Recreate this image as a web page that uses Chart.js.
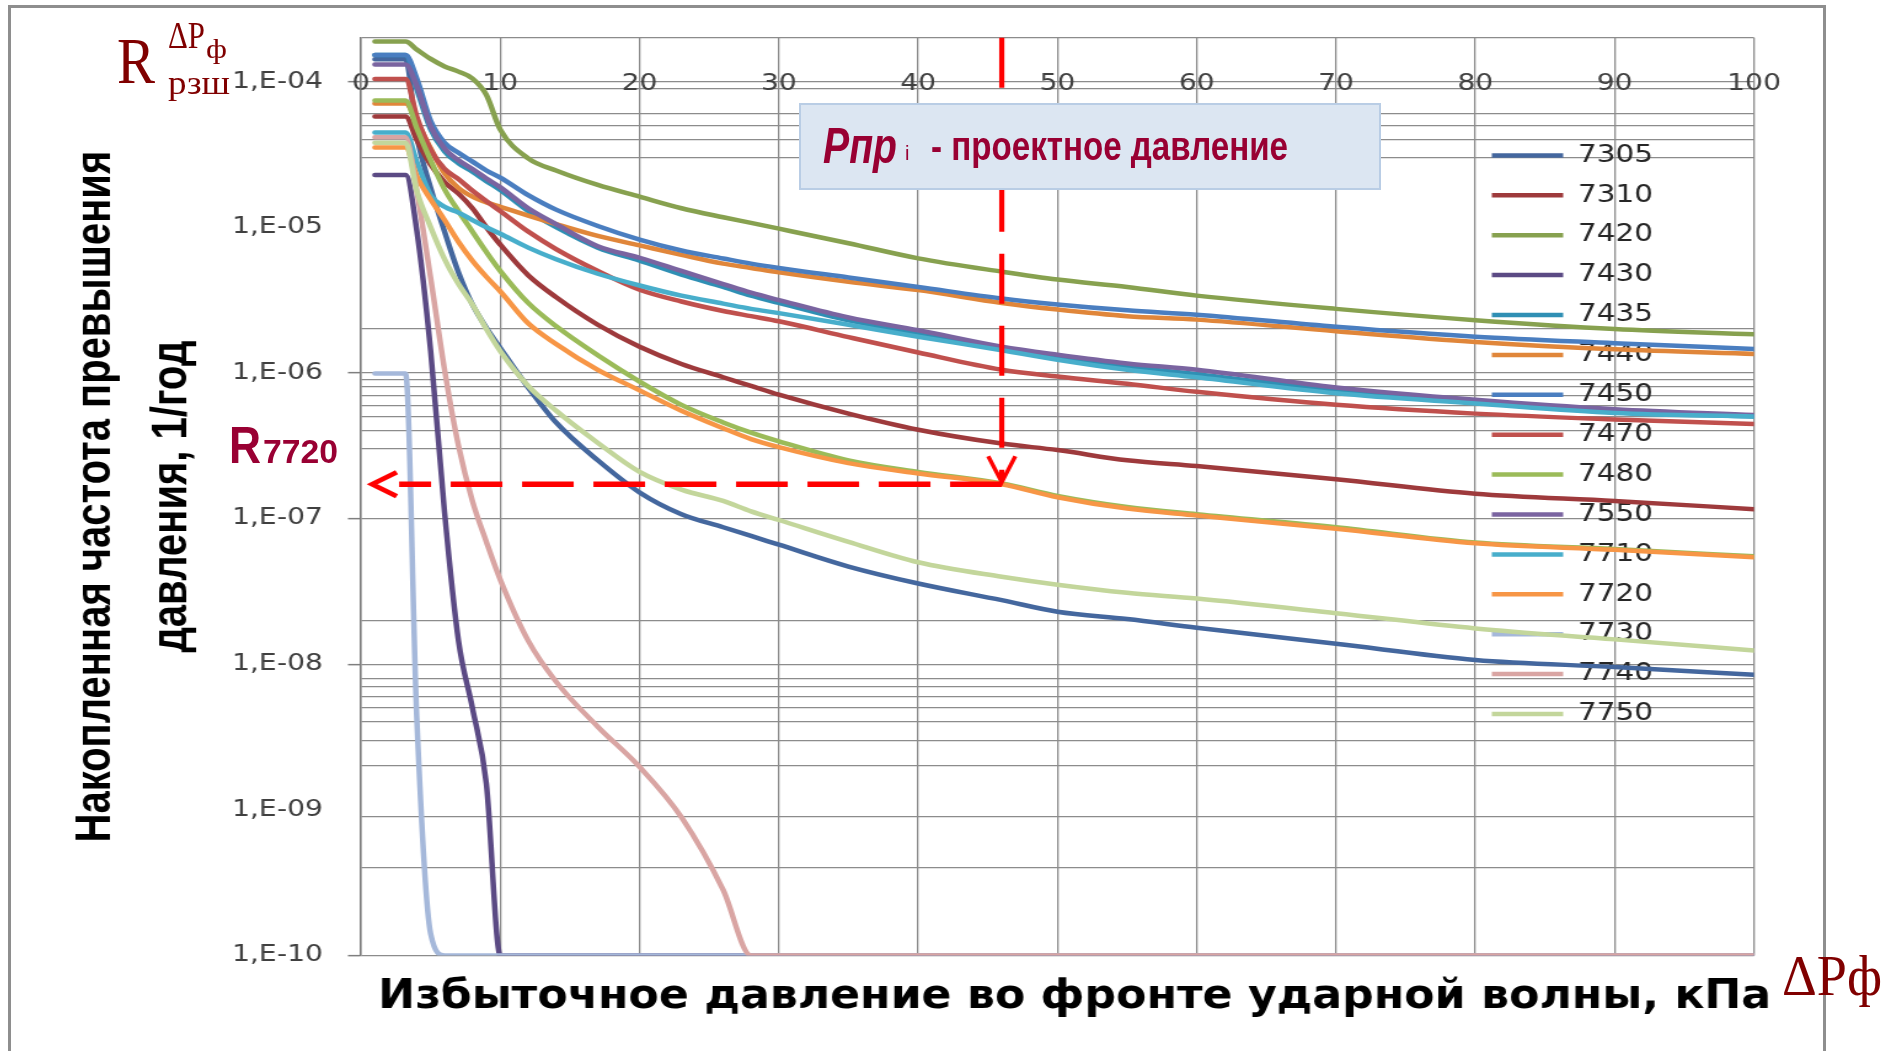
<!DOCTYPE html>
<html lang="ru">
<head>
<meta charset="utf-8">
<title>Накопленная частота превышения давления</title>
<script src="https://cdn.jsdelivr.net/npm/chart.js@4.4.1/dist/chart.umd.min.js"></script>
<style>
  html, body { margin: 0; padding: 0; background: #ffffff; }
  body { position: relative; width: 1899px; height: 1051px; overflow: hidden; }
  #frame { position: absolute; left: 8px; top: 5px; width: 1812px; height: 1100px; border: 3px solid #8e8e8e; }
  #plotWrap { position: absolute; left: 14px; top: 0; width: 1472px; height: 1051px; transform: scaleX(1.23); transform-origin: 0 0; }
  #notes { position: absolute; left: 0; top: 0; pointer-events: none; }
</style>
</head>
<body>
<div id="frame"></div>
<div id="plotWrap"><canvas id="plot" width="1472" height="1051"></canvas></div>
<canvas id="notes" width="1899" height="1051"></canvas>
<script>
// Excess pressure at the shock front, kPa (x values shared by all curves)
const pressure = [1, 3.2, 4, 5, 6, 7, 8, 9, 10, 12, 14, 17, 20, 23, 26, 28, 30, 35, 40, 46, 50, 55, 60, 70, 80, 90, 100];

const stationNames = ['7305', '7310', '7420', '7430', '7435', '7440', '7450', '7470', '7480', '7550', '7710', '7720', '7730', '7740', '7750'];
const stationColors = ['#44679e', '#9e3a3c', '#87a14f', '#5b4a84', '#2f8fb4', '#e0863a', '#4a7ec0', '#c0504d', '#9bbb59', '#7a64a0', '#48aecb', '#f79646', '#a5b8da', '#d9a5a3', '#c3d69b'];

// Cumulative exceedance frequency, 1/year
const f7305 = [1.42e-4, 1.42e-4, 4.27e-5, 1.86e-5, 9.33e-6, 4.90e-6, 2.95e-6, 2.04e-6, 1.48e-6, 7.94e-7, 4.57e-7, 2.51e-7, 1.51e-7, 1.07e-7, 8.71e-8, 7.59e-8, 6.61e-8, 4.68e-8, 3.58e-8, 2.75e-8, 2.29e-8, 2.04e-8, 1.78e-8, 1.38e-8, 1.07e-8, 9.55e-9, 8.45e-9];
const f7310 = [5.75e-5, 5.75e-5, 3.98e-5, 2.69e-5, 2.04e-5, 1.70e-5, 1.35e-5, 1.00e-5, 7.59e-6, 4.68e-6, 3.31e-6, 2.14e-6, 1.51e-6, 1.15e-6, 9.33e-7, 8.13e-7, 7.08e-7, 5.25e-7, 4.07e-7, 3.27e-7, 2.95e-7, 2.51e-7, 2.29e-7, 1.86e-7, 1.48e-7, 1.32e-7, 1.16e-7];
const f7420 = [1.88e-4, 1.88e-4, 1.66e-4, 1.43e-4, 1.27e-4, 1.17e-4, 1.05e-4, 8.10e-5, 4.68e-5, 2.97e-5, 2.45e-5, 1.95e-5, 1.62e-5, 1.35e-5, 1.17e-5, 1.07e-5, 9.77e-6, 7.76e-6, 6.11e-6, 4.95e-6, 4.37e-6, 3.89e-6, 3.39e-6, 2.75e-6, 2.30e-6, 2.00e-6, 1.84e-6];
const f7430 = [2.28e-5, 2.28e-5, 9.55e-6, 1.41e-6, 1.10e-7, 1.45e-8, 5.01e-9, 1.51e-9, 1e-10, 1e-10, 1e-10, 1e-10, 1e-10, 1e-10, 1e-10, 1e-10, 1e-10, 1e-10, 1e-10, 1e-10, 1e-10, 1e-10, 1e-10, 1e-10, 1e-10, 1e-10, 1e-10];
const f7435 = [1.52e-4, 1.52e-4, 8.91e-5, 4.68e-5, 3.31e-5, 2.75e-5, 2.40e-5, 2.07e-5, 1.80e-5, 1.29e-5, 1.00e-5, 7.24e-6, 5.89e-6, 4.73e-6, 3.89e-6, 3.39e-6, 3.02e-6, 2.29e-6, 1.86e-6, 1.45e-6, 1.26e-6, 1.10e-6, 9.77e-7, 7.59e-7, 6.31e-7, 5.37e-7, 5.01e-7];
const f7440 = [7.08e-5, 7.08e-5, 5.37e-5, 3.47e-5, 2.34e-5, 1.86e-5, 1.62e-5, 1.48e-5, 1.38e-5, 1.20e-5, 1.05e-5, 8.71e-6, 7.50e-6, 6.46e-6, 5.62e-6, 5.25e-6, 4.90e-6, 4.22e-6, 3.70e-6, 3.02e-6, 2.72e-6, 2.45e-6, 2.32e-6, 1.93e-6, 1.63e-6, 1.45e-6, 1.35e-6];
const f7450 = [1.52e-4, 1.52e-4, 1.05e-4, 5.37e-5, 3.80e-5, 3.24e-5, 2.82e-5, 2.45e-5, 2.19e-5, 1.66e-5, 1.32e-5, 1.02e-5, 8.22e-6, 6.92e-6, 6.10e-6, 5.62e-6, 5.25e-6, 4.52e-6, 3.89e-6, 3.24e-6, 2.95e-6, 2.69e-6, 2.51e-6, 2.07e-6, 1.77e-6, 1.60e-6, 1.46e-6];
const f7470 = [1.04e-4, 1.04e-4, 5.75e-5, 3.39e-5, 2.51e-5, 2.14e-5, 1.78e-5, 1.51e-5, 1.29e-5, 9.33e-6, 7.08e-6, 5.01e-6, 3.72e-6, 3.09e-6, 2.66e-6, 2.45e-6, 2.26e-6, 1.76e-6, 1.38e-6, 1.05e-6, 9.44e-7, 8.41e-7, 7.41e-7, 6.03e-7, 5.25e-7, 4.79e-7, 4.45e-7];
const f7480 = [7.40e-5, 7.40e-5, 4.79e-5, 2.88e-5, 1.82e-5, 1.29e-5, 9.33e-6, 6.76e-6, 5.01e-6, 3.02e-6, 2.09e-6, 1.32e-6, 8.71e-7, 6.03e-7, 4.57e-7, 3.89e-7, 3.39e-7, 2.51e-7, 2.09e-7, 1.74e-7, 1.43e-7, 1.20e-7, 1.07e-7, 8.71e-8, 6.84e-8, 6.17e-8, 5.50e-8];
const f7550 = [1.31e-4, 1.31e-4, 9.33e-5, 4.90e-5, 3.47e-5, 2.88e-5, 2.51e-5, 2.16e-5, 1.88e-5, 1.35e-5, 1.05e-5, 7.41e-6, 6.17e-6, 5.01e-6, 4.07e-6, 3.55e-6, 3.16e-6, 2.40e-6, 1.96e-6, 1.51e-6, 1.33e-6, 1.16e-6, 1.05e-6, 7.94e-7, 6.53e-7, 5.62e-7, 5.13e-7];
const f7710 = [4.47e-5, 4.47e-5, 2.82e-5, 1.66e-5, 1.38e-5, 1.26e-5, 1.12e-5, 1.00e-5, 9.02e-6, 7.24e-6, 6.03e-6, 4.79e-6, 3.98e-6, 3.39e-6, 2.99e-6, 2.75e-6, 2.57e-6, 2.14e-6, 1.77e-6, 1.43e-6, 1.23e-6, 1.05e-6, 9.33e-7, 7.24e-7, 6.17e-7, 5.31e-7, 5.01e-7];
const f7720 = [3.53e-5, 3.53e-5, 2.24e-5, 1.55e-5, 1.12e-5, 7.94e-6, 5.89e-6, 4.57e-6, 3.63e-6, 2.19e-6, 1.58e-6, 1.05e-6, 7.59e-7, 5.50e-7, 4.17e-7, 3.51e-7, 3.09e-7, 2.40e-7, 2.04e-7, 1.72e-7, 1.40e-7, 1.17e-7, 1.05e-7, 8.51e-8, 6.76e-8, 6.10e-8, 5.42e-8];
const f7730 = [9.90e-7, 9.90e-7, 4.37e-9, 1.41e-10, 1e-10, 1e-10, 1e-10, 1e-10, 1e-10, 1e-10, 1e-10, 1e-10, 1e-10, 1e-10, 1e-10, 1e-10, 1e-10, 1e-10, 1e-10, 1e-10, 1e-10, 1e-10, 1e-10, 1e-10, 1e-10, 1e-10, 1e-10];
const f7740 = [4.14e-5, 4.14e-5, 1.78e-5, 4.47e-6, 1.05e-6, 3.16e-7, 1.32e-7, 6.92e-8, 3.80e-8, 1.45e-8, 7.59e-9, 3.72e-9, 1.97e-9, 8.91e-10, 2.82e-10, 1e-10, 1e-10, 1e-10, 1e-10, 1e-10, 1e-10, 1e-10, 1e-10, 1e-10, 1e-10, 1e-10, 1e-10];
const f7750 = [3.80e-5, 3.80e-5, 1.78e-5, 1.00e-5, 6.03e-6, 4.07e-6, 2.95e-6, 2.00e-6, 1.41e-6, 8.13e-7, 5.50e-7, 3.31e-7, 2.09e-7, 1.58e-7, 1.32e-7, 1.12e-7, 9.77e-8, 6.92e-8, 5.01e-8, 3.98e-8, 3.51e-8, 3.09e-8, 2.82e-8, 2.24e-8, 1.76e-8, 1.48e-8, 1.24e-8];

const stationValues = [f7305, f7310, f7420, f7430, f7435, f7440, f7450, f7470, f7480, f7550, f7710, f7720, f7730, f7740, f7750];

// Axis ticks
const pressureTicks = [0, 10, 20, 30, 40, 50, 60, 70, 80, 90, 100];
const freqDecades = [1e-4, 1e-5, 1e-6, 1e-7, 1e-8, 1e-9, 1e-10];
const freqDecadeLabels = ['1,E-04', '1,E-05', '1,E-06', '1,E-07', '1,E-08', '1,E-09', '1,E-10'];
const freqGridLines = [2e-4, 1e-4, 9e-5, 6e-5, 5e-5, 4e-5, 3e-5, 2e-6, 1e-6, 9e-7, 8e-7, 7e-7, 6e-7, 5e-7, 4e-7, 3e-7, 1e-7, 2e-8, 1e-8, 8e-9, 7e-9, 6e-9, 5e-9, 4e-9, 3e-9, 2e-9, 9e-10, 4e-10, 1e-10];

// Design pressure for the guide lines, read on curve 7720
const projectPressure = 46;
const guideStation = '7720';

const xTitle = 'Избыточное давление во фронте ударной волны, кПа';
const yTitle = ['Накопленная частота превышения', 'давления, 1/год'];

const same = (a, b) => Math.abs(a - b) <= Math.abs(b) * 1e-6;
const isGridLine = v => freqGridLines.some(g => same(g, v));
const isDecade = v => freqDecades.some(d => same(d, v));
const clear = 'rgba(0,0,0,0)';

// Pick a condensed bold face for the pressure-axis title when the system has one
function titleFont() {
  const c = document.createElement('canvas').getContext('2d');
  c.font = 'bold 40px monospace';
  const base = c.measureText(xTitle).width;
  c.font = 'bold 40px "DejaVu Sans Condensed", monospace';
  const w = c.measureText(xTitle).width;
  if (Math.abs(w - base) > 1) {
    const size = Math.max(34, Math.min(42, 40 * 1137 / w));
    return { family: '"DejaVu Sans Condensed"', size: size, weight: 'bold' };
  }
  return { family: 'DejaVu Sans', size: 36, weight: 'bold' };
}
const xTitleFont = titleFont();

// Dashed guide: design pressure down to curve 7720, then across to the frequency axis
const designGuides = {
  id: 'designGuides',
  afterDatasetsDraw(chart) {
    const { ctx, chartArea, scales } = chart;
    const series = stationValues[stationNames.indexOf(guideStation)];
    const r = series[pressure.indexOf(projectPressure)];
    const xp = scales.x.getPixelForValue(projectPressure);
    const yp = scales.y.getPixelForValue(r);
    const xl = chartArea.left + 9;
    ctx.save();
    ctx.strokeStyle = '#ff0000';
    ctx.lineCap = 'butt';
    ctx.lineWidth = 4.2;
    ctx.setLineDash([50, 22]);
    ctx.beginPath();
    ctx.moveTo(xp, chartArea.top);
    ctx.lineTo(xp, yp - 4);
    ctx.stroke();
    ctx.setLineDash([]);
    ctx.lineWidth = 3.4;
    ctx.beginPath();
    ctx.moveTo(xp - 11, yp - 28);
    ctx.lineTo(xp, yp - 2);
    ctx.lineTo(xp + 11, yp - 28);
    ctx.stroke();
    ctx.lineWidth = 5.5;
    ctx.setLineDash([42, 16]);
    ctx.beginPath();
    ctx.moveTo(xp, yp);
    ctx.lineTo(xl + 22, yp);
    ctx.stroke();
    ctx.setLineDash([]);
    ctx.lineWidth = 4.5;
    ctx.beginPath();
    ctx.moveTo(xl + 20, yp - 12);
    ctx.lineTo(xl, yp);
    ctx.lineTo(xl + 20, yp + 12);
    ctx.stroke();
    ctx.restore();
  }
};

// Legend sits inside the plot, at the right; the axis title is nudged right
const legendPlacement = {
  id: 'legendPlacement',
  afterLayout(chart) {
    const lg = chart.legend;
    if (lg) {
      const w = lg.width, h = lg.height;
      lg.left = 1185.6; lg.top = 127.5;
      lg.right = lg.left + w; lg.bottom = lg.top + h;
    }
    const xb = chart.scales.xb;
    if (xb) { xb.left += 14; xb.right += 14; }
  }
};

Chart.defaults.font.family = 'DejaVu Sans';

new Chart(document.getElementById('plot'), {
  type: 'line',
  data: {
    labels: pressure,
    datasets: stationNames.map((name, i) => ({
      label: name,
      data: stationValues[i],
      xAxisID: 'x',
      yAxisID: 'y',
      borderColor: stationColors[i],
      backgroundColor: stationColors[i],
      pointBorderColor: stationColors[i],
      pointBackgroundColor: stationColors[i],
      pointBorderWidth: 4.5,
      pointRadius: 0,
      pointHoverRadius: 0,
      borderWidth: 4.5,
      borderJoinStyle: 'round',
      borderCapStyle: 'round',
      cubicInterpolationMode: 'monotone',
      fill: false,
      order: stationNames.length - i
    }))
  },
  options: {
    responsive: false,
    animation: false,
    devicePixelRatio: 1,
    events: [],
    layout: { padding: { left: 0, top: 37.7, right: 57.4, bottom: 28.5 } },
    scales: {
      x: {
        type: 'linear',
        min: 0,
        max: 100,
        position: { y: 1e-4 },
        afterBuildTicks: s => { s.ticks = pressureTicks.map(v => ({ value: v })); },
        ticks: {
          autoSkip: false,
          maxRotation: 0,
          padding: -11.3,
          color: '#404040',
          font: { family: 'DejaVu Sans', size: 23 },
          callback: v => String(v)
        },
        grid: { color: '#8c8c8c', lineWidth: 1.3, drawTicks: false },
        border: { display: false }
      },
      xb: {
        type: 'linear',
        min: 0,
        max: 100,
        position: 'bottom',
        afterFit: s => { s.height = 67; },
        ticks: { display: false },
        grid: { display: false, drawTicks: false },
        border: { display: false },
        title: {
          display: true,
          text: xTitle,
          color: '#000000',
          font: xTitleFont,
          padding: { top: 0, bottom: 1 }
        }
      },
      y: {
        type: 'logarithmic',
        position: 'left',
        min: 1e-10,
        max: 2e-4,
        afterFit: s => { s.width = 282.1; },
        afterBuildTicks: s => {
          const vals = freqGridLines.concat(freqDecades.filter(v => !isGridLine(v)));
          vals.sort((a, b) => a - b);
          s.ticks = vals.map(v => ({ value: v }));
        },
        ticks: {
          autoSkip: false,
          padding: 20.3,
          color: '#404040',
          font: { family: 'DejaVu Sans', size: 23 },
          callback: v => {
            const i = freqDecades.findIndex(d => same(d, v));
            return i < 0 ? '' : freqDecadeLabels[i];
          }
        },
        grid: {
          lineWidth: 1.3,
          tickLength: 10.6,
          tickWidth: 1.5,
          color: c => (c.tick && isGridLine(c.tick.value)) ? '#8c8c8c' : clear,
          tickColor: c => (c.tick && isGridLine(c.tick.value) && isDecade(c.tick.value)) ? '#7f7f7f' : clear
        },
        border: { display: true, color: '#7a7a7a', width: 1.5 },
        title: {
          display: true,
          text: yTitle,
          color: '#000000',
          font: { family: 'Liberation Sans', size: 40, weight: 'bold', lineHeight: 1.55 },
          padding: { top: 35.7, bottom: 0 }
        }
      }
    },
    plugins: {
      tooltip: { enabled: false },
      legend: {
        display: true,
        position: 'chartArea',
        align: 'start',
        labels: {
          usePointStyle: true,
          pointStyle: 'line',
          pointStyleWidth: 58,
          boxHeight: 6,
          padding: 15.9,
          color: '#262626',
          font: { family: 'DejaVu Sans', size: 24 },
          sort: (a, b) => a.datasetIndex - b.datasetIndex
        }
      }
    }
  },
  plugins: [designGuides, legendPlacement]
});

// Slide annotations over the chart
const notes = document.getElementById('notes').getContext('2d');
function note(text, font, color, x, baseline, width) {
  notes.save();
  notes.font = font;
  notes.fillStyle = color;
  notes.textBaseline = 'alphabetic';
  const w = notes.measureText(text).width;
  notes.translate(x, baseline);
  if (width) notes.scale(width / w, 1);
  notes.fillText(text, 0, 0);
  notes.restore();
}

notes.fillStyle = '#dce6f2';
notes.fillRect(799, 103, 582, 87);
notes.strokeStyle = '#b9cde5';
notes.lineWidth = 2;
notes.strokeRect(800, 104, 580, 85);
note('Рпр', 'italic bold 50px "Liberation Sans"', '#990033', 823, 163, 74);
note('i', '20px "Liberation Sans"', '#990033', 905, 160);
note('- проектное давление', 'bold 40px "Liberation Sans"', '#990033', 931, 160, 357);

note('R', '65px "Liberation Serif"', '#800000', 117, 83, 38);
note('ΔP', '38px "Liberation Serif"', '#800000', 168, 48, 37);
note('ф', '27px "Liberation Serif"', '#800000', 206, 58, 21);
note('рзш', '33px "Liberation Serif"', '#800000', 168, 94, 62);

note('R', 'bold 52px "Liberation Sans"', '#990033', 229, 463, 32);
note('7720', 'bold 33px "Liberation Sans"', '#990033', 263, 463, 75);

note('ΔPф', '56px "Liberation Serif"', '#800000', 1782, 995, 100);
</script>
</body>
</html>
